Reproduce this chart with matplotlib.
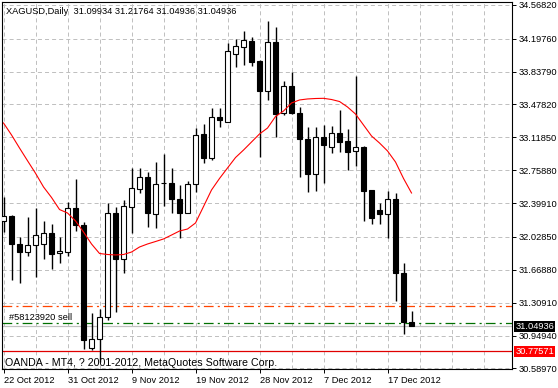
import numpy as np
import matplotlib
matplotlib.use("Agg")
import matplotlib.pyplot as plt
from matplotlib.transforms import blended_transform_factory

plt.rcParams['font.family'] = ['Liberation Sans', 'DejaVu Sans']
plt.rcParams['lines.scale_dashes'] = False

# XAGUSD daily bars, 22 Oct 2012 .. 20 Dec 2012
opens = [32.199, 32.261, 31.951, 31.860, 31.937, 31.948, 32.071, 31.849, 31.867, 32.342,
         32.159, 30.813, 30.908, 31.149, 32.287, 31.784, 32.361, 32.549, 32.681, 32.276,
         32.615, 32.615, 32.440, 32.287, 32.604, 33.155, 32.895, 33.341, 33.289, 34.027,
         34.103, 34.172, 33.953, 33.628, 34.158, 33.381, 33.676, 33.388, 33.100, 32.714,
         33.125, 33.009, 33.162, 33.081, 32.965, 33.016, 32.542, 32.323, 32.276, 32.438,
         31.630, 31.09934]
highs = [32.468, 32.268, 32.024, 32.243, 32.342, 32.203, 32.170, 32.031, 32.414, 32.662,
         32.188, 31.196, 31.236, 32.396, 32.352, 32.432, 32.779, 32.779, 32.739, 32.845,
         32.936, 32.779, 32.596, 32.635, 33.217, 33.261, 33.436, 33.436, 34.147, 34.194,
         34.282, 34.213, 33.960, 34.391, 34.329, 33.734, 33.833, 33.453, 33.234, 33.234,
         33.253, 33.245, 33.417, 33.206, 33.789, 33.020, 32.545, 32.403, 32.531, 32.512,
         31.746, 31.21764]
lows = [32.086, 31.557, 31.521, 31.820, 31.593, 31.787, 31.674, 31.740, 31.820, 32.096,
        30.802, 30.794, 30.665, 31.119, 31.210, 31.630, 32.068, 32.509, 32.140, 32.123,
        32.367, 32.287, 32.020, 32.287, 32.523, 32.834, 32.870, 33.234, 33.289, 33.884,
        33.910, 33.902, 32.906, 33.527, 33.125, 33.362, 33.373, 32.681, 32.517, 32.534,
        32.615, 32.943, 32.961, 32.761, 32.804, 32.206, 32.166, 32.166, 32.013, 31.331,
        30.966, 31.04936]
closes = [32.257, 31.948, 31.860, 31.937, 32.046, 32.071, 31.845, 31.874, 32.342, 32.159,
          30.895, 30.908, 31.149, 32.287, 31.784, 32.367, 32.560, 32.681, 32.287, 32.607,
          32.615, 32.440, 32.287, 32.604, 33.144, 32.895, 33.337, 33.304, 34.063, 34.117,
          34.183, 33.946, 33.628, 34.158, 33.373, 33.676, 33.381, 33.097, 32.714, 33.125,
          33.031, 33.162, 33.070, 32.961, 33.009, 32.531, 32.239, 32.276, 32.440, 31.630,
          31.101, 31.04936]

# red moving average
ma = [33.275, 33.144, 33.001, 32.862, 32.725, 32.575, 32.460, 32.328, 32.290, 32.203,
      32.082, 31.951, 31.847, 31.836, 31.831, 31.836, 31.863, 31.918, 31.951, 31.978,
      32.006, 32.049, 32.093, 32.115, 32.181, 32.361, 32.542, 32.668, 32.783, 32.897,
      32.979, 33.067, 33.155, 33.220, 33.346, 33.406, 33.494, 33.527, 33.538, 33.543,
      33.545, 33.532, 33.510, 33.450, 33.373, 33.253, 33.133, 33.056, 32.969, 32.848,
      32.668, 32.509]

date_labels = ['22 Oct 2012', '31 Oct 2012', '9 Nov 2012', '19 Nov 2012',
               '28 Nov 2012', '7 Dec 2012', '17 Dec 2012']
price_ticks = [34.5682, 34.1976, 33.8379, 33.4782, 33.1185, 32.7588, 32.3991,
               32.0285, 31.6688, 31.3091, 30.9494, 30.5897]

bid = 31.04936
sell_price = 31.087
orange_level = 31.269
red_level = 30.77571

fs = 6.7

fig = plt.figure(figsize=(5.58, 3.88), dpi=100)
ax = fig.add_axes([2 / 558, 19 / 388, 510 / 558, 367 / 388])
ax.set_xlim(-0.19, 63.56)
ax.set_ylim(30.583, 34.599)

grid_kw = dict(color='#c0c0c0', lw=0.72, linestyle=(0, (2.9, 2.2)), zorder=0)
for i in range(0, 64, 4):
    ax.axvline(i, **grid_kw)
for p in price_ticks:
    ax.axhline(p, **grid_kw)

# order / price lines
ax.axhline(orange_level, color='#ff4500', lw=0.9, linestyle=(0, (7, 3, 1.5, 3)), zorder=1)
ax.axhline(sell_price, color='#007000', lw=0.9, linestyle=(0, (7, 3, 1.5, 3)), zorder=1)
ax.axhline(bid, color='#c0c0c0', lw=0.9, zorder=1)
ax.axhline(red_level, color='#e00000', lw=0.9, zorder=1)

# candles
o = np.array(opens)
c = np.array(closes)
x = np.arange(len(o))
up = c >= o
ax.vlines(x, lows, highs, color='black', lw=1.0, zorder=3)
ax.bar(x, np.abs(c - o), bottom=np.minimum(o, c), width=0.62,
       color=np.where(up, 'white', 'black'), edgecolor='black', linewidth=0.8, zorder=4)

ax.plot(x, ma, color='red', lw=0.8, zorder=5)

ax.text(0.013, 31.143, '#58123920 sell', fontsize=fs, va='center',
        transform=blended_transform_factory(ax.transAxes, ax.transData))

# axes styling
for s in ax.spines.values():
    s.set_linewidth(0.8)
ax.set_xticks(np.arange(0, 56, 8))
ax.set_xticklabels(date_labels, ha='left', fontsize=fs)
ax.tick_params(axis='x', length=3, width=0.7, pad=2)
ax.yaxis.tick_right()
ax.set_yticks(price_ticks)
ax.set_yticklabels(['%.5f' % p for p in price_ticks], fontsize=fs)
ax.tick_params(axis='y', length=3, width=0.7, pad=2)

trans = blended_transform_factory(ax.transAxes, ax.transData)
ax.text(1.007, bid, '%.5f' % bid, color='white', fontsize=fs, va='center', ha='left',
        transform=trans, clip_on=False, zorder=10,
        bbox=dict(boxstyle='square,pad=0.12', fc='black', ec='none'))
ax.text(1.007, red_level, '%.5f' % red_level, color='white', fontsize=fs, va='center', ha='left',
        transform=trans, clip_on=False, zorder=10,
        bbox=dict(boxstyle='square,pad=0.12', fc='#ff0000', ec='none'))

fig.text(6 / 558, 1 - 11 / 388, 'XAGUSD,Daily  31.09934 31.21764 31.04936 31.04936',
         fontsize=fs, va='center')
fig.text(5 / 558, 1 - 362.5 / 388, 'OANDA - MT4, ? 2001-2012, MetaQuotes Software Corp.',
         fontsize=7.7, va='center')

fig.savefig('out.png', dpi=100)
